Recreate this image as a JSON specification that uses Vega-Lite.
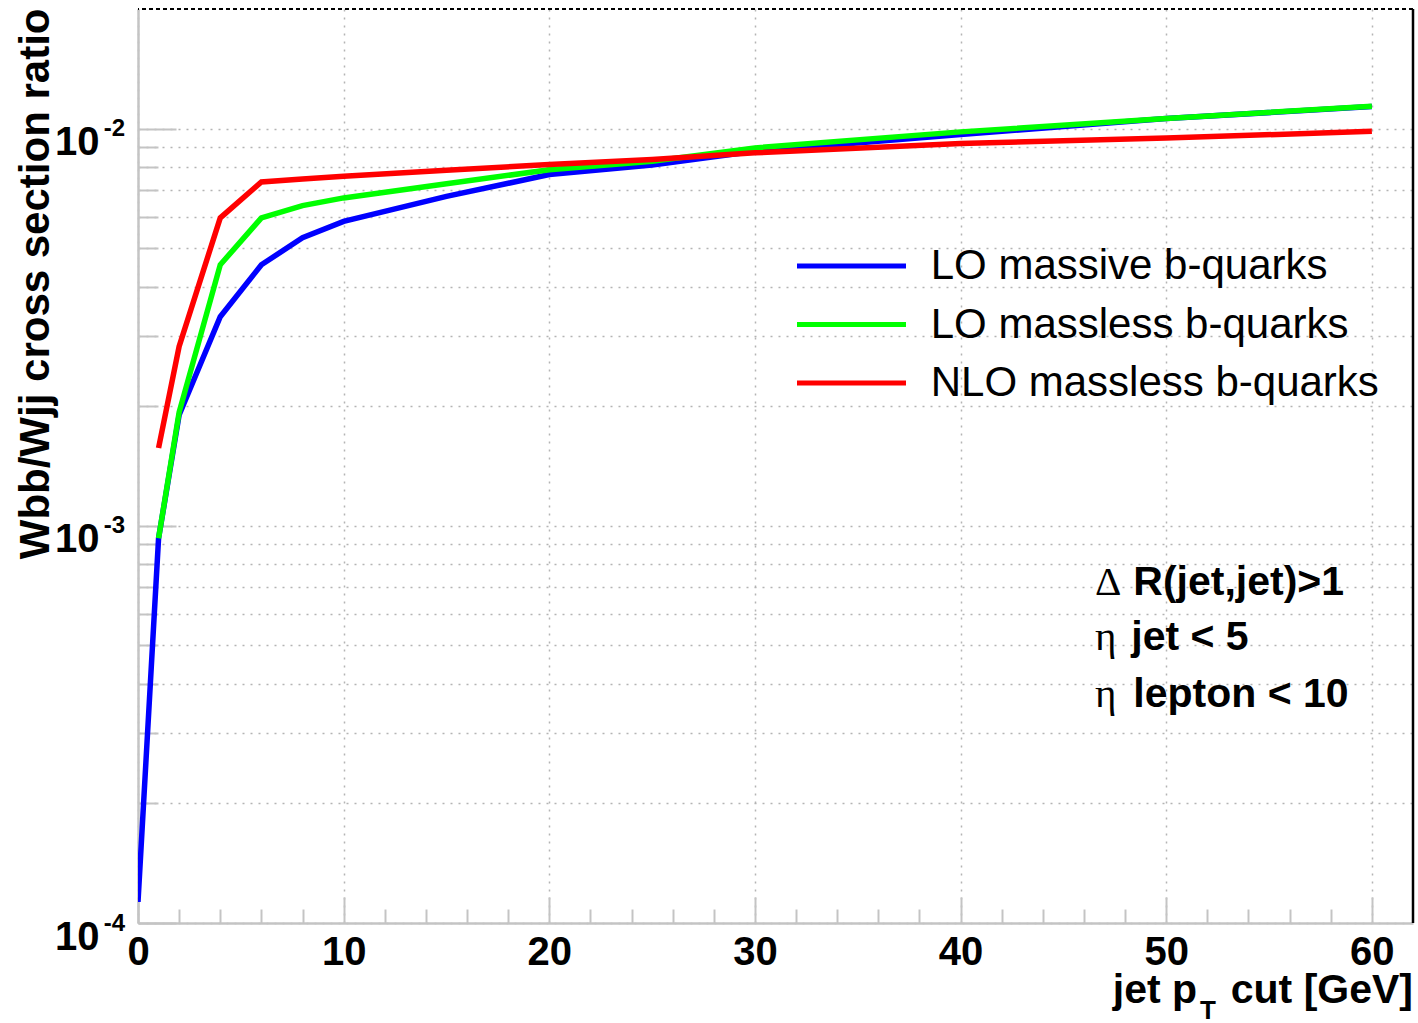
{
  "$schema": "https://vega.github.io/schema/vega-lite/v6.json",
  "width": 1275,
  "height": 914,
  "autosize": {"type": "none"},
  "padding": {"left": 138, "top": 9, "right": 5, "bottom": 100},
  "background": "white",
  "config": {"view": {"stroke": null}, "font": "Liberation Sans"},
  "datasets": {
    "curves": [
      {"x": 0, "y": 0.000113, "series": "LO massive b-quarks"},
      {"x": 1, "y": 0.00093, "series": "LO massive b-quarks"},
      {"x": 2, "y": 0.0019, "series": "LO massive b-quarks"},
      {"x": 4, "y": 0.00336, "series": "LO massive b-quarks"},
      {"x": 6, "y": 0.00454, "series": "LO massive b-quarks"},
      {"x": 8, "y": 0.00531, "series": "LO massive b-quarks"},
      {"x": 10, "y": 0.00584, "series": "LO massive b-quarks"},
      {"x": 15, "y": 0.00675, "series": "LO massive b-quarks"},
      {"x": 20, "y": 0.00766, "series": "LO massive b-quarks"},
      {"x": 25, "y": 0.0081, "series": "LO massive b-quarks"},
      {"x": 30, "y": 0.00877, "series": "LO massive b-quarks"},
      {"x": 40, "y": 0.00966, "series": "LO massive b-quarks"},
      {"x": 50, "y": 0.0106, "series": "LO massive b-quarks"},
      {"x": 60, "y": 0.01136, "series": "LO massive b-quarks"},
      {"x": 1, "y": 0.00093, "series": "LO massless b-quarks"},
      {"x": 2, "y": 0.00193, "series": "LO massless b-quarks"},
      {"x": 4, "y": 0.00454, "series": "LO massless b-quarks"},
      {"x": 6, "y": 0.00596, "series": "LO massless b-quarks"},
      {"x": 8, "y": 0.0064, "series": "LO massless b-quarks"},
      {"x": 10, "y": 0.00669, "series": "LO massless b-quarks"},
      {"x": 15, "y": 0.00726, "series": "LO massless b-quarks"},
      {"x": 20, "y": 0.00788, "series": "LO massless b-quarks"},
      {"x": 25, "y": 0.00827, "series": "LO massless b-quarks"},
      {"x": 30, "y": 0.00894, "series": "LO massless b-quarks"},
      {"x": 40, "y": 0.00981, "series": "LO massless b-quarks"},
      {"x": 50, "y": 0.0106, "series": "LO massless b-quarks"},
      {"x": 60, "y": 0.01138, "series": "LO massless b-quarks"},
      {"x": 1, "y": 0.00157, "series": "NLO massless b-quarks"},
      {"x": 2, "y": 0.00283, "series": "NLO massless b-quarks"},
      {"x": 4, "y": 0.00596, "series": "NLO massless b-quarks"},
      {"x": 6, "y": 0.00734, "series": "NLO massless b-quarks"},
      {"x": 8, "y": 0.00747, "series": "NLO massless b-quarks"},
      {"x": 10, "y": 0.00759, "series": "NLO massless b-quarks"},
      {"x": 15, "y": 0.00785, "series": "NLO massless b-quarks"},
      {"x": 20, "y": 0.00812, "series": "NLO massless b-quarks"},
      {"x": 25, "y": 0.00836, "series": "NLO massless b-quarks"},
      {"x": 30, "y": 0.00869, "series": "NLO massless b-quarks"},
      {"x": 40, "y": 0.00917, "series": "NLO massless b-quarks"},
      {"x": 50, "y": 0.00947, "series": "NLO massless b-quarks"},
      {"x": 60, "y": 0.00984, "series": "NLO massless b-quarks"}
    ],
    "exponents": [
      {"decade": 0.0001, "label": "-4"},
      {"decade": 0.001, "label": "-3"},
      {"decade": 0.01, "label": "-2"}
    ],
    "one": [{}]
  },
  "layer": [
    {
      "data": {"name": "curves"},
      "mark": {"type": "line", "strokeWidth": 5.5, "clip": true},
      "encoding": {
        "x": {
          "field": "x", "type": "quantitative",
          "scale": {"type": "linear", "domain": [0, 62], "nice": false, "zero": false},
          "axis": {
            "values": [0,2,4,6,8,10,12,14,16,18,20,22,24,26,28,30,32,34,36,38,40,42,44,46,48,50,52,54,56,58,60],
            "title": null,
            "labelExpr": "datum.value % 10 === 0 ? datum.label : ''",
            "labelFont": "Liberation Sans", "labelFontWeight": "bold", "labelFontSize": 40, "labelColor": "black",
            "labelPadding": 35, "labelFlush": false, "labelOverlap": false, "labelBound": false,
            "labelBaseline": "top",
            "tickSize": {"condition": {"test": "datum.value % 10 === 0", "value": -26}, "value": -14},
            "tickColor": "#c4c4c4", "tickWidth": 2,
            "domainColor": "#c4c4c4", "domainWidth": 2.5,
            "grid": true, "gridColor": "#b4b4b4", "gridDash": [2, 6], "gridWidth": 1.5,
            "gridOpacity": {"condition": {"test": "datum.value % 10 === 0", "value": 1}, "value": 0}
          }
        },
        "y": {
          "field": "y", "type": "quantitative",
          "scale": {"type": "log", "domain": [0.0001, 0.02], "nice": false},
          "axis": {
            "values": [0.0001,0.0002,0.0003,0.0004,0.0005,0.0006,0.0007,0.0008,0.0009,0.001,0.002,0.003,0.004,0.005,0.006,0.007,0.008,0.009,0.01],
            "title": "Wbb/Wjj cross section ratio",
            "titleFont": "Liberation Sans", "titleFontWeight": "bold", "titleFontSize": 42, "titleColor": "black",
            "titleAngle": 270, "titleAlign": "right", "titleBaseline": "alphabetic", "titleX": -90, "titleY": -1,
            "labelExpr": "abs(log(datum.value)/LN10 - round(log(datum.value)/LN10)) < 0.001 ? '10' : ''",
            "labelFont": "Liberation Sans", "labelFontWeight": "bold", "labelFontSize": 40, "labelColor": "black",
            "labelPadding": 77, "labelOffset": 26, "labelBaseline": "alphabetic", "labelAlign": "right",
            "labelOverlap": false, "labelBound": false, "labelFlush": false,
            "tickSize": {"condition": {"test": "abs(log(datum.value)/LN10 - round(log(datum.value)/LN10)) < 0.001", "value": -38}, "value": -20},
            "tickColor": "#c4c4c4", "tickWidth": 2,
            "domainColor": "#c4c4c4", "domainWidth": 2.5,
            "grid": true, "gridColor": "#b4b4b4", "gridDash": [2, 6], "gridWidth": 1.5
          }
        },
        "color": {
          "field": "series", "type": "nominal",
          "scale": {"domain": ["LO massive b-quarks", "LO massless b-quarks", "NLO massless b-quarks"], "range": ["#0000ff", "#00ff00", "#ff0000"]},
          "legend": {
            "orient": "none", "legendX": 638, "legendY": 236, "title": null,
            "symbolType": "M0,0H6", "symbolSize": 1320, "symbolStrokeWidth": 5,
            "labelFont": "Liberation Sans", "labelFontSize": 42, "labelColor": "black",
            "labelOffset": 112.7, "rowPadding": 16.5, "labelLimit": 0, "padding": 0
          }
        }
      }
    },
    {
      "data": {"name": "exponents"},
      "mark": {"type": "text", "align": "right", "baseline": "alphabetic", "dy": 7.5, "font": "Liberation Sans", "fontWeight": "bold", "fontSize": 24, "color": "black"},
      "encoding": {
        "x": {"datum": -0.63, "scale": {"type": "linear", "domain": [0, 62], "nice": false, "zero": false}},
        "y": {"field": "decade", "type": "quantitative", "scale": {"type": "log", "domain": [0.0001, 0.02], "nice": false}},
        "text": {"field": "label", "type": "nominal"}
      }
    },
    {
      "data": {"name": "one"},
      "mark": {"type": "rule", "stroke": "black", "strokeWidth": 2, "strokeDash": [4, 3]},
      "encoding": {"y": {"datum": 0.02, "scale": {"type": "log", "domain": [0.0001, 0.02], "nice": false}}}
    },
    {
      "data": {"name": "one"},
      "mark": {"type": "rule", "stroke": "black", "strokeWidth": 2.5},
      "encoding": {"x": {"datum": 62, "scale": {"type": "linear", "domain": [0, 62], "nice": false, "zero": false}}}
    },
    {
      "data": {"name": "one"},
      "mark": {"type": "text", "align": "left", "baseline": "alphabetic", "font": "Liberation Serif", "fontSize": 41, "color": "black"},
      "encoding": {
        "x": {"datum": 46.54, "scale": {"type": "linear", "domain": [0, 62], "nice": false, "zero": false}},
        "y": {"datum": 0.000669, "scale": {"type": "log", "domain": [0.0001, 0.02], "nice": false}},
        "text": {"value": "Δ"}
      }
    },
    {
      "data": {"name": "one"},
      "mark": {"type": "text", "align": "left", "baseline": "alphabetic", "font": "Liberation Sans", "fontWeight": "bold", "fontSize": 41, "color": "black"},
      "encoding": {
        "x": {"datum": 48.4, "scale": {"type": "linear", "domain": [0, 62], "nice": false, "zero": false}},
        "y": {"datum": 0.000669, "scale": {"type": "log", "domain": [0.0001, 0.02], "nice": false}},
        "text": {"value": "R(jet,jet)>1"}
      }
    },
    {
      "data": {"name": "one"},
      "mark": {"type": "text", "align": "left", "baseline": "alphabetic", "font": "Liberation Serif", "fontSize": 41, "color": "black"},
      "encoding": {
        "x": {"datum": 46.54, "scale": {"type": "linear", "domain": [0, 62], "nice": false, "zero": false}},
        "y": {"datum": 0.000487, "scale": {"type": "log", "domain": [0.0001, 0.02], "nice": false}},
        "text": {"value": "η"}
      }
    },
    {
      "data": {"name": "one"},
      "mark": {"type": "text", "align": "left", "baseline": "alphabetic", "font": "Liberation Sans", "fontWeight": "bold", "fontSize": 41, "color": "black"},
      "encoding": {
        "x": {"datum": 48.3, "scale": {"type": "linear", "domain": [0, 62], "nice": false, "zero": false}},
        "y": {"datum": 0.000487, "scale": {"type": "log", "domain": [0.0001, 0.02], "nice": false}},
        "text": {"value": "jet < 5"}
      }
    },
    {
      "data": {"name": "one"},
      "mark": {"type": "text", "align": "left", "baseline": "alphabetic", "font": "Liberation Serif", "fontSize": 41, "color": "black"},
      "encoding": {
        "x": {"datum": 46.54, "scale": {"type": "linear", "domain": [0, 62], "nice": false, "zero": false}},
        "y": {"datum": 0.00035, "scale": {"type": "log", "domain": [0.0001, 0.02], "nice": false}},
        "text": {"value": "η"}
      }
    },
    {
      "data": {"name": "one"},
      "mark": {"type": "text", "align": "left", "baseline": "alphabetic", "font": "Liberation Sans", "fontWeight": "bold", "fontSize": 41, "color": "black"},
      "encoding": {
        "x": {"datum": 48.4, "scale": {"type": "linear", "domain": [0, 62], "nice": false, "zero": false}},
        "y": {"datum": 0.00035, "scale": {"type": "log", "domain": [0.0001, 0.02], "nice": false}},
        "text": {"value": "lepton < 10"}
      }
    },
    {
      "data": {"name": "one"},
      "mark": {"type": "text", "align": "right", "baseline": "alphabetic", "font": "Liberation Sans", "fontWeight": "bold", "fontSize": 41, "color": "black"},
      "encoding": {
        "x": {"datum": 51.5, "scale": {"type": "linear", "domain": [0, 62], "nice": false, "zero": false}},
        "y": {"datum": 0.0000629, "scale": {"type": "log", "domain": [0.0001, 0.02], "nice": false}},
        "text": {"value": "jet p"}
      }
    },
    {
      "data": {"name": "one"},
      "mark": {"type": "text", "align": "center", "baseline": "alphabetic", "font": "Liberation Sans", "fontWeight": "bold", "fontSize": 26, "color": "black"},
      "encoding": {
        "x": {"datum": 52.03, "scale": {"type": "linear", "domain": [0, 62], "nice": false, "zero": false}},
        "y": {"datum": 0.0000573, "scale": {"type": "log", "domain": [0.0001, 0.02], "nice": false}},
        "text": {"value": "T"}
      }
    },
    {
      "data": {"name": "one"},
      "mark": {"type": "text", "align": "right", "baseline": "alphabetic", "font": "Liberation Sans", "fontWeight": "bold", "fontSize": 41, "color": "black"},
      "encoding": {
        "x": {"datum": 62, "scale": {"type": "linear", "domain": [0, 62], "nice": false, "zero": false}},
        "y": {"datum": 0.0000629, "scale": {"type": "log", "domain": [0.0001, 0.02], "nice": false}},
        "text": {"value": "cut [GeV]"}
      }
    }
  ]
}
